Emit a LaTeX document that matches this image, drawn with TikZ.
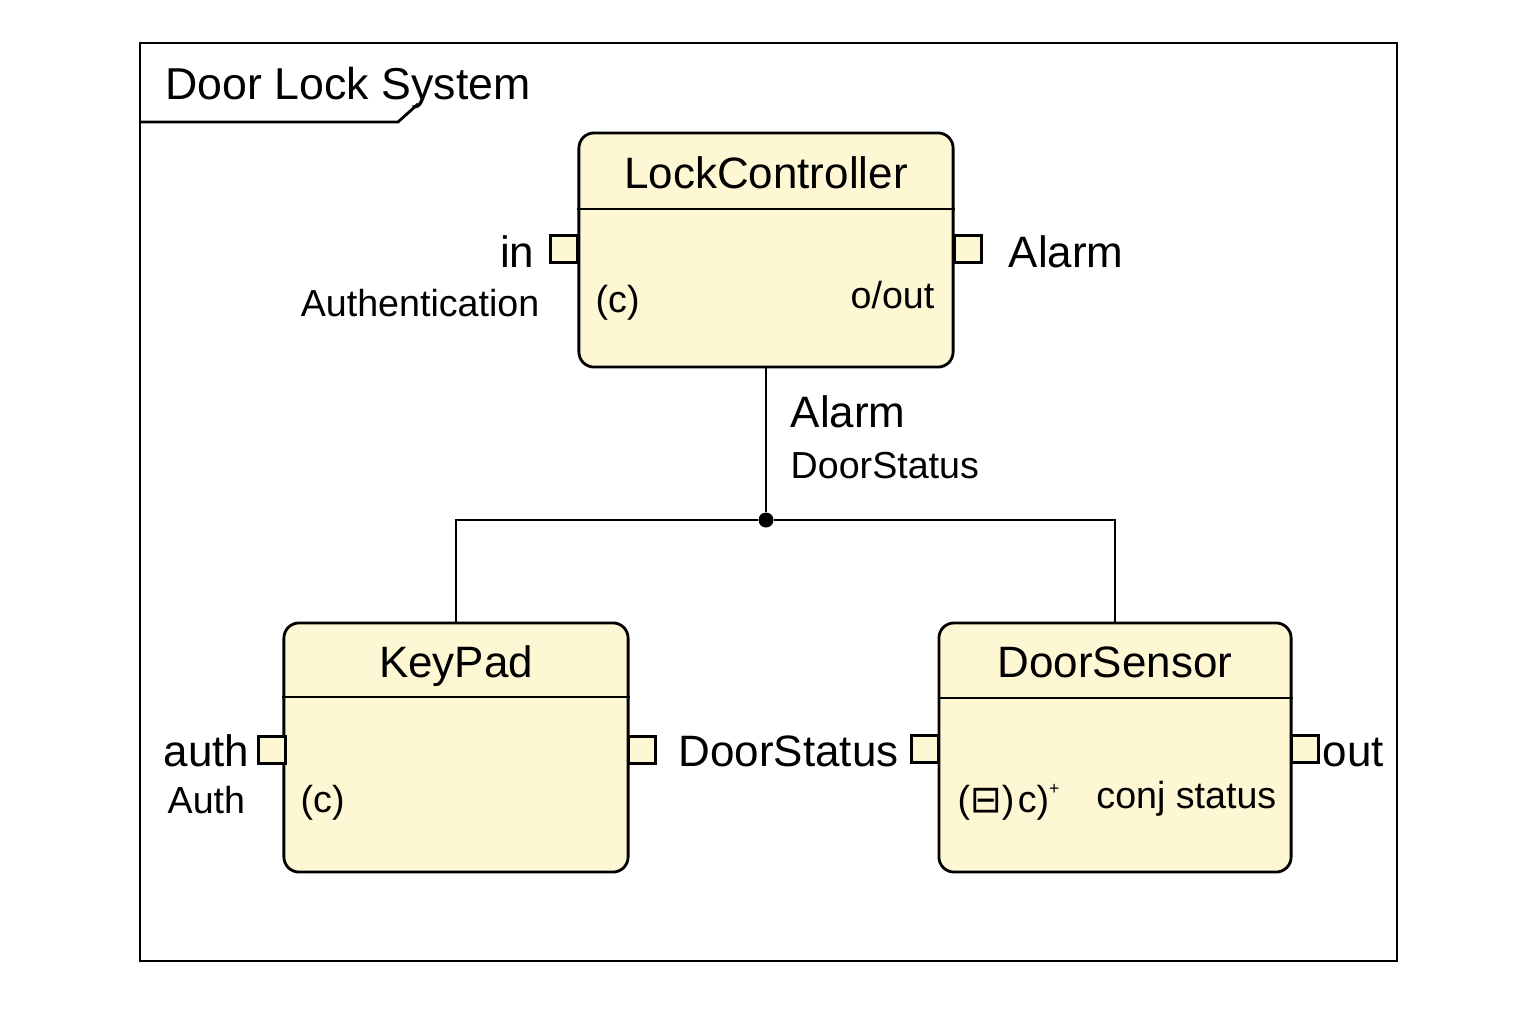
\documentclass[tikz,border=0pt]{standalone}
\usepackage{fontspec}
\setmainfont{Liberation Sans}
\newfontfamily\symfont{DejaVu Sans}
\definecolor{compfill}{RGB}{253,247,212}

\begin{document}
\begin{tikzpicture}[x=0.01cm,y=-0.01cm,
    comp/.style={draw,line width=0.8pt,rounded corners=4.3pt,fill=compfill,inner sep=0mm},
    port/.style={draw,line width=0.8pt,fill=compfill,inner sep=0mm,minimum size=2.7mm},
    biglbl/.style={inner sep=0mm,font=\fontsize{12.5}{15}\selectfont},
    smllbl/.style={inner sep=0mm,font=\fontsize{10.7}{13}\selectfont}]
                \useasboundingbox (0,0) rectangle (1536,1024);
                % frame
                \draw[line width=0.8pt] (140,43) rectangle (1397,961);
                \draw[line width=0.8pt] (140,122) -- (398,122) -- (418,104);
                \node[biglbl,anchor=base west,font=\fontsize{12.7}{15}\selectfont] (frame) at (165,100) {Door Lock System};
                % components
                \foreach \x/\y/\w/\h/\n/\t/\d/\b in {766/250/3.74cm/2.34cm/lc/LockController/209/188, 456/747.5/3.44cm/2.49cm/kp/KeyPad/697/677, 1115/747.5/3.52cm/2.49cm/ds/DoorSensor/698/677}
                {
                \node[comp,minimum width=\w,minimum height=\h] (\n) at (\x,\y) {};
                \draw[line width=0.8pt] (\n.west |- 0,\d) -- (\n.east |- 0,\d);
                \node[biglbl,anchor=base] (\n t) at (\x,\b) {\t};
                }
                \foreach \x/\y/\n in {564/249/lcin, 968/249/lcout, 272/750/kpin, 642/750/kpout, 925/749/dsin, 1305/749/dsout}
                \node[port] (\n) at (\x,\y) {};
                % labels
                \foreach \x/\y/\a/\s/\n/\t in {535/267/base east/biglbl/inl/in, 540/316/base east/smllbl/authl/Authentication, 1008/267/base west/biglbl/alarml/Alarm, 595/312/base west/smllbl/lcc/(c), 790/427/base west/biglbl/busa/Alarm, 790/478/base west/smllbl/busd/DoorStatus, 250/766/base east/biglbl/authp/auth, 167/813/base west/smllbl/autht/Auth, 300/812/base west/smllbl/kpc/(c), 678/766/base west/biglbl/kpds/DoorStatus, 1322/766/base west/biglbl/outl/out, 1277/808/base east/smllbl/conj/conj status}
                \node[\s,anchor=\a] (\n) at (\x,\y) {\t};
                \node[smllbl,anchor=base east] (lco) at (935,308) {o/out};
                \node[smllbl,anchor=base west] (dsc) at (957,812) {({\symfont ⊟})\kern1pt c)\raisebox{5pt}{\fontsize{5}{6}\selectfont +}};
                % bus
                \node[circle,fill,inner sep=0mm,minimum size=1.5mm] (j) at (766,520) {};
                \draw[line width=0.7pt] (lc) -- (j);
                \foreach \t in {kp,ds}
                \draw[line width=0.7pt] (j) -| (\t.north);

            \end{tikzpicture}
\end{document}
